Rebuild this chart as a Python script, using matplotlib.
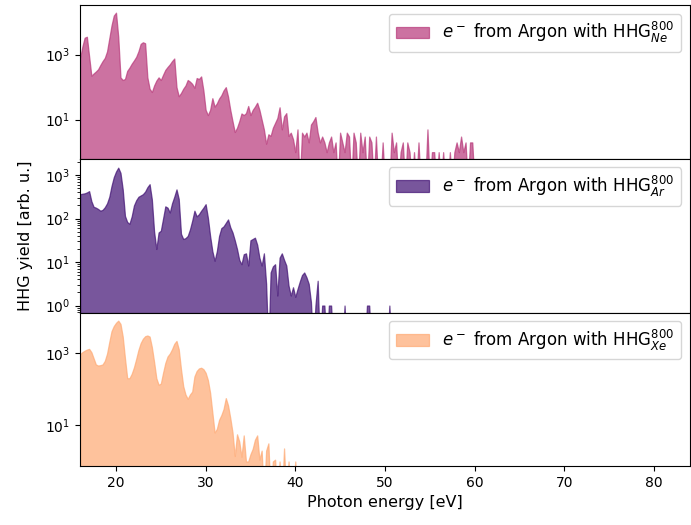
import numpy as np
import matplotlib
matplotlib.use("Agg")
import matplotlib.pyplot as plt
from matplotlib.ticker import FixedLocator, NullLocator, LogLocator

# energy grid of the spectra (eV)
e_start = 16.0
e_step = 0.25

# log10 of the HHG yield, one value per energy bin (-1 = empty bin)
ne_log = [2.90, 3.25, 3.52, 3.55, 2.95, 2.35, 2.42, 2.48,
          2.55, 2.68, 2.80, 2.90, 3.10, 3.50, 3.90, 4.20,
          4.29, 3.55, 2.30, 2.22, 2.25, 2.50, 2.60, 2.72,
          2.82, 2.93, 3.10, 3.33, 3.38, 3.35, 2.30, 1.95,
          1.85, 2.05, 2.20, 2.30, 2.22, 2.38, 2.53, 2.62,
          2.70, 2.80, 2.88, 2.00, 1.72, 1.82, 1.95, 2.05,
          2.22, 2.17, 2.10, 1.98, 2.28, 2.25, 2.33, 1.90,
          1.30, 1.14, 1.30, 1.66, 1.40, 1.50, 1.65, 1.75,
          1.90, 2.00, 1.71, 1.30, 0.95, 0.62, 0.75, 0.95,
          1.19, 1.14, 1.20, 1.42, 1.14, 1.30, 1.40, 1.52,
          1.30, 1.00, 0.70, 0.26, 0.55, 0.50, 0.75, 0.90,
          1.05, 1.38, 0.70, 1.10, 1.20, 0.50, 0.60, 0.40,
          0.00, 0.70, -1, 0.60, 0.48, 0.60, 0.30, 0.85,
          0.95, 1.08, 0.60, 0.30, 0.48, 0.30, 0.00, 0.30,
          0.48, 0.00, 0.30, -1, 0.60, 0.30, 0.00, 0.60,
          0.48, -1, 0.60, 0.30, -1, 0.60, 0.00, 0.48,
          -1, 0.48, 0.30, -1, 0.48, -1, -1, 0.30,
          -1, -1, -1, 0.60, 0.00, 0.30, -1, 0.00,
          0.30, -1, 0.30, 0.00, -1, 0.00, -1, 0.30,
          -1, -1, -1, 0.70, -1, 0.00, 0.00, -1,
          0.00, -1, 0.00, -1, -1, 0.00, -1, 0.00,
          0.30, 0.00, 0.48, 0.00, 0.30, -1, 0.30, 0.30,
          -1]

ar_log = [2.56, 2.57, 2.58, 2.60, 2.63, 2.40, 2.27, 2.25,
          2.22, 2.18, 2.20, 2.26, 2.35, 2.50, 2.75, 2.95,
          3.08, 3.17, 3.05, 2.67, 2.06, 1.92, 1.88, 2.05,
          2.30, 2.42, 2.50, 2.53, 2.56, 2.62, 2.72, 2.79,
          2.44, 1.70, 1.30, 1.68, 1.72, 2.00, 2.28, 2.25,
          2.14, 2.35, 2.50, 2.67, 2.45, 1.65, 1.53, 1.55,
          1.60, 1.75, 1.95, 2.18, 2.05, 2.10, 2.18, 2.25,
          2.33, 2.02, 1.60, 1.25, 1.03, 1.25, 1.60, 1.78,
          1.82, 1.90, 1.98, 1.80, 1.68, 1.50, 1.30, 1.05,
          0.95, 1.18, 1.20, 0.92, 1.50, 1.53, 1.56, 1.40,
          1.10, 0.92, 1.20, 0.50, -1, 0.76, 0.90, 0.95,
          0.23, 1.10, 1.20, 1.05, 0.92, 0.46, 0.23, 0.42,
          0.20, 0.38, 0.55, 0.70, 0.76, 0.65, 0.50, 0.08,
          -1, 0.00, 0.57, -1, 0.00, 0.00, -1, 0.00,
          0.00, -1, -1, -1, -1, -1, 0.00, -1,
          -1, -1, -1, -1, -1, -1, -1, -1,
          0.00, 0.00, -1, -1, -1, -1, -1, -1,
          -1, -1, 0.00, -1, -1]

xe_log = [2.97, 3.02, 3.06, 3.09, 3.11, 3.02, 2.85, 2.68,
          2.65, 2.66, 2.68, 2.78, 2.98, 3.30, 3.60, 3.74,
          3.83, 3.89, 3.80, 3.45, 2.85, 2.30, 2.30, 2.42,
          2.60, 2.83, 3.08, 3.27, 3.39, 3.46, 3.48, 3.45,
          3.16, 2.75, 2.30, 2.12, 2.15, 2.45, 2.72, 2.90,
          2.98, 3.10, 3.25, 3.33, 3.10, 2.55, 2.08, 1.85,
          1.73, 1.85, 1.93, 2.35, 2.50, 2.57, 2.59, 2.55,
          2.45, 2.25, 1.90, 1.35, 0.80, 0.90, 1.15, 1.28,
          1.45, 1.75, 1.55, 1.20, 0.80, 0.15, 0.75, 0.55,
          0.13, 0.72, 0.00, 0.00, 0.20, 0.35, 0.60, 0.72,
          0.05, 0.30, -1, 0.30, 0.50, -1, 0.00, 0.05,
          -1, 0.00, -1, 0.36, -1, 0.00, -1, -1,
          0.00, -1]

labels = [r"$e^-$ from Argon with HHG$^{800}_{Ne}$",
          r"$e^-$ from Argon with HHG$^{800}_{Ar}$",
          r"$e^-$ from Argon with HHG$^{800}_{Xe}$"]
ylims = [(0.62, 3.3e4), (0.69, 2.35e3), (0.74, 1.3e4)]
yticks = [[1e1, 1e3], [1e0, 1e1, 1e2, 1e3], [1e1, 1e3]]

cmap = plt.get_cmap("magma")
colors = [cmap(0.5), cmap(0.21), cmap(0.82)]

fig, axes = plt.subplots(3, 1, sharex=True, figsize=(6.91, 5.25), dpi=100)
fig.subplots_adjust(left=0.116, right=0.998, top=0.99, bottom=0.112, hspace=0)

for ax, logs, lab, lim, tks, c in zip(axes, [ne_log, ar_log, xe_log], labels,
                                      ylims, yticks, colors):
    yld = 10.0 ** np.array(logs)
    e = e_start + e_step * np.arange(len(yld))
    ax.fill_between(e, yld, 1e-2, color=c, alpha=0.7, linewidth=0.9, label=lab)
    ax.set_yscale("log")
    ax.set_ylim(lim)
    ax.yaxis.set_major_locator(FixedLocator(tks))
    if len(tks) > 2:
        ax.yaxis.set_minor_locator(LogLocator(subs=np.arange(2, 10)))
    else:
        ax.yaxis.set_minor_locator(NullLocator())
    ax.legend(loc="upper right", fontsize=12)
    ax.tick_params(labelsize=10)

axes[-1].set_xlim(16, 84)
axes[-1].set_xlabel("Photon energy [eV]", fontsize=11.5)
axes[1].set_ylabel("HHG yield [arb. u.]", fontsize=11.5, labelpad=9)

plt.savefig("out.png", dpi=100)
